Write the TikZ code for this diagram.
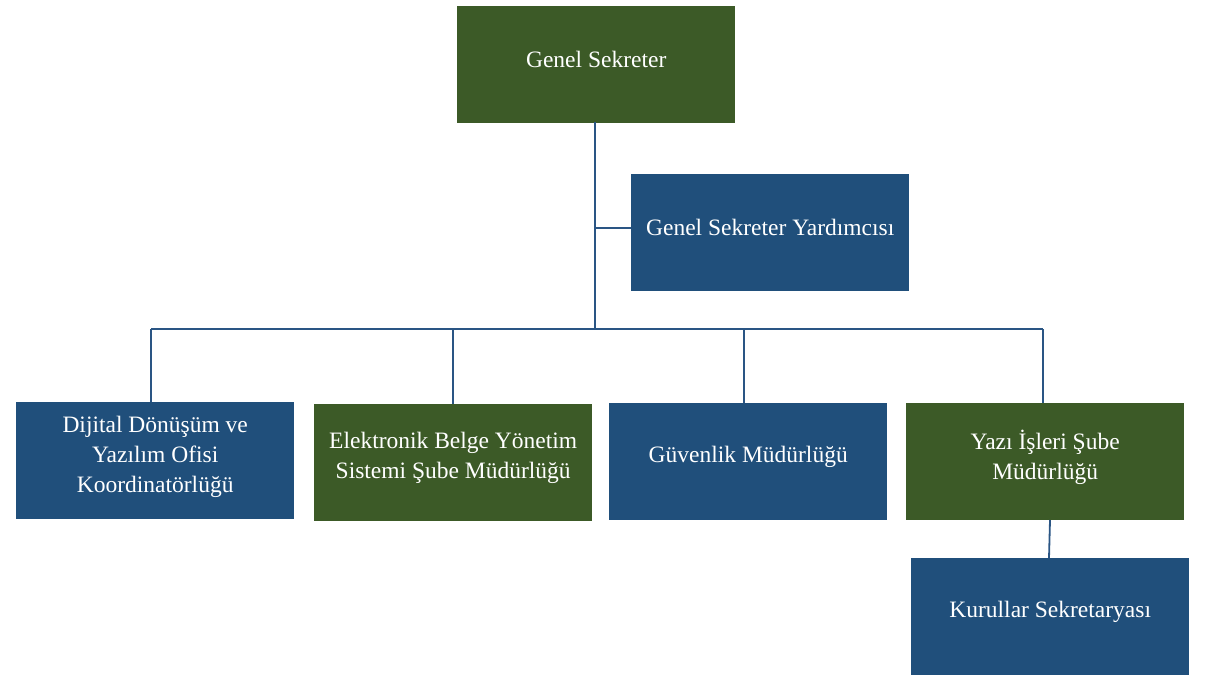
\documentclass[tikz,border=0pt]{standalone}
\usepackage{fontspec}
\setmainfont{Liberation Serif}
\definecolor{boxgreen}{HTML}{3C5A27}
\definecolor{boxblue}{HTML}{204F7B}
\definecolor{linkblue}{HTML}{2A5584}
\begin{document}
\begin{tikzpicture}[x=1pt,y=-1pt,
  unit/.style={minimum width=278pt,minimum height=117pt,inner sep=0pt,anchor=north west},
  gbox/.style={unit,fill=boxgreen},
  bbox/.style={unit,fill=boxblue},
  txt/.style={text=white,align=center,inner sep=0pt,yshift=4.5pt,
    font=\fontsize{23.5}{30}\selectfont},
  link/.style={draw=linkblue,line width=1.8pt}]
\useasboundingbox (0,0) rectangle (1207,695);
\node[gbox,label={[txt,yshift=1pt]center:Genel Sekreter}] (gs) at (457,6) {};
\node[bbox,label={[txt,yshift=1pt]center:Genel Sekreter Yardımcısı}] (gsy) at (631,174) {};
\node[bbox,label={[txt,yshift=-1pt]center:{Dijital Dönüşüm ve\\Yazılım Ofisi\\Koordinatörlüğü}}] (dd) at (16,402) {};
\node[gbox,label={[txt]center:{Elektronik Belge Yönetim\\Sistemi Şube Müdürlüğü}}] (eb) at (314,404) {};
\node[bbox,label={[txt]center:Güvenlik Müdürlüğü}] (gm) at (609,403) {};
\node[gbox,label={[txt]center:{Yazı İşleri Şube\\Müdürlüğü}}] (yi) at (906,403) {};
\node[bbox,label={[txt]center:Kurullar Sekretaryası}] (ks) at (911,558) {};
\coordinate (top) at (595,122);
\coordinate (mid) at (595,228);
\coordinate (bus) at (595,329);
\coordinate (busL) at (151,329);
\coordinate (busR) at (1043,329);
\draw[link] (top) -- (bus);
\draw[link] (mid) -- (mid -| gsy.west);
\draw[link] (busL) -- (busR);
\draw[link] (busL) -- (busL |- dd.north);
\draw[link] (453,329) -- (453,404) coordinate (ebtop);
\draw[link] (744,329) -- (744,403) coordinate (gmtop);
\draw[link] (busR) -- (busR |- yi.north);
\draw[link] (1050,520) coordinate (yibot) -- (1049,558) coordinate (kstop);
\end{tikzpicture}
\end{document}
